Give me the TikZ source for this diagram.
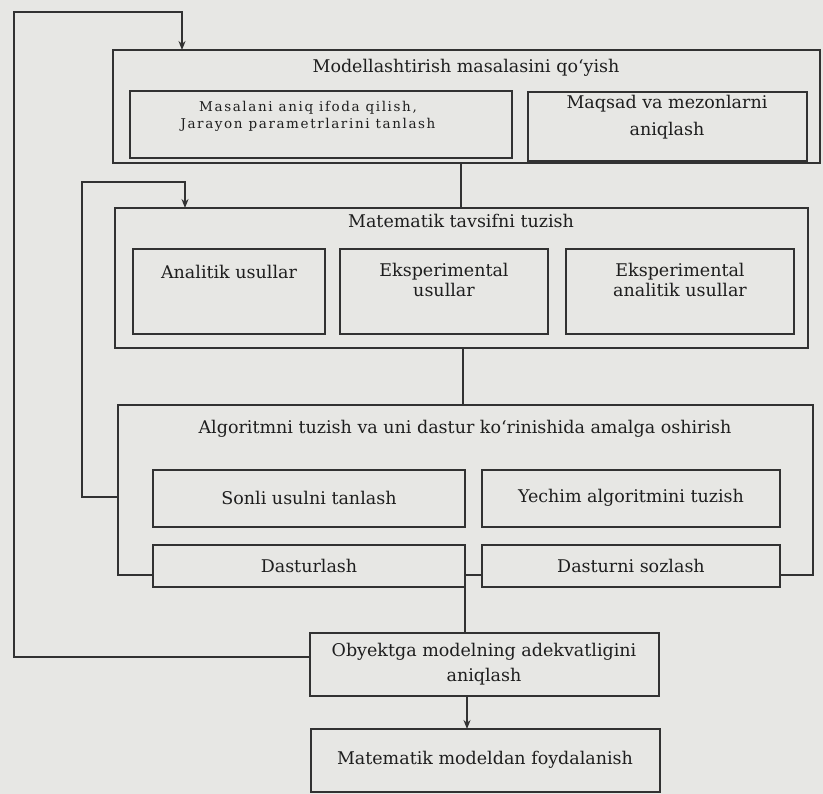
\documentclass[tikz,border=0pt]{standalone}
\usepackage{fontspec}
\setmainfont{DejaVu Serif}
\usetikzlibrary{fit,arrows.meta}
\definecolor{bg}{RGB}{231,231,228}
\definecolor{ink}{RGB}{50,50,50}
\definecolor{txtc}{RGB}{30,30,30}
\begin{document}
\begin{tikzpicture}[x=1pt,y=-1pt,
  frame/.style={draw=ink, line width=1.5pt, inner sep=0pt, outer sep=0pt},
  area/.style={inner sep=0pt, outer sep=0pt},
  wire/.style={draw=ink, line width=1.5pt},
  arr/.style={wire, -{Stealth[length=9pt,width=7pt]}},
  txt/.style={text=txtc, align=center, inner sep=0pt, font=\fontsize{17.5}{22}\selectfont},
  small/.style={txt, font=\fontsize{13.5}{17}\selectfont\addfontfeatures{LetterSpace=12}}
]
\fill[bg] (0,0) rectangle (823,794);
\useasboundingbox (0,0) rectangle (823,794);

% stage 1
\node[frame, fit={(113,50)(820,163)}] (b1) {};
\node[frame, fit={(130,91)(512,158)}] (b1a) {};
\node[frame, fit={(528,92)(807,161)}] (b1b) {};
\node[txt] (t1) at (466,68) {Modellashtirish masalasini qoʻyish};
\node[small] (t1a) at (308,116) {Masalani aniq ifoda qilish,\\Jarayon parametrlarini tanlash};
\node[txt, font=\fontsize{17.5}{27}\selectfont] (t1b) at (667,117) {Maqsad va mezonlarni\\aniqlash};

% stage 2
\node[frame, fit={(115,208)(808,348)}] (b2) {};
\node[frame, fit={(133,249)(325,334)}] (b2a) {};
\node[frame, fit={(340,249)(548,334)}] (b2b) {};
\node[frame, fit={(566,249)(794,334)}] (b2c) {};
\node[txt] (t2) at (461,221) {Matematik tavsifni tuzish};
\node[txt] (t2a) at (229,272) {Analitik usullar};
\node[txt, font=\fontsize{17.5}{20}\selectfont] (t2b) at (444,280) {Eksperimental\\usullar};
\node[txt, font=\fontsize{17.5}{20}\selectfont] (t2c) at (680,280) {Eksperimental\\analitik usullar};

% stage 3 (open frame)
\node[area, fit={(118,405)(813,575)}] (b3) {};
\node[frame, fit={(153,470)(465,527)}] (b3a) {};
\node[frame, fit={(482,470)(780,527)}] (b3b) {};
\node[frame, fit={(153,545)(465,587)}] (dast) {};
\node[frame, fit={(482,545)(780,587)}] (sozl) {};
\node[txt] (t3) at (465,429) {Algoritmni tuzish va uni dastur koʻrinishida amalga oshirish};
\node[txt] (t3a) at (309,498) {Sonli usulni tanlash};
\node[txt] (t3b) at (631,498) {Yechim algoritmini tuzish};
\node[txt] (t3c) at (309,566) {Dasturlash};
\node[txt] (t3d) at (631,566) {Dasturni sozlash};
\draw[wire, line width=1.5pt] (dast.west |- b3.south west) -- (b3.south west) -- (b3.north west)
  -- (b3.north east) -- (b3.south east) -- (sozl.east |- b3.south east);
\draw[wire, line width=1.5pt] (dast.east |- b3.south) -- (sozl.west |- b3.south);

% stage 4, 5
\node[frame, fit={(310,633)(659,696)}] (obj) {};
\node[txt, font=\fontsize{17.5}{25}\selectfont] (t4) at (484,664) {Obyektga modelning adekvatligini\\aniqlash};
\node[frame, fit={(311,729)(660,792)}] (use) {};
\node[txt] (t5) at (485,760) {Matematik modeldan foydalanish};

% connectors
\coordinate (c12) at (461,0);
\coordinate (c23) at (463,0);
\coordinate (c45) at (467,0);
\draw[wire] (b1.south -| c12) -- (b2.north -| c12);
\draw[wire] (b2.south -| c23) -- (b3.north -| c23);
\draw[wire, line width=1.5pt] (dast.south east) -- (obj.north -| dast.south east);
\draw[arr] (obj.south -| c45) -- (use.north -| c45);

% feedback from stage 3 to stage 2
\coordinate (f1) at (82,497);
\coordinate (f2) at (82,182);
\coordinate (f3) at (185,182);
\draw[arr] (b3.west |- f1) -- (f1) -- (f2) -- (f3) -- (b2.north -| f3);

% feedback from stage 4 to stage 1
\coordinate (g1) at (14,657);
\coordinate (g2) at (14,12);
\coordinate (g3) at (182,12);
\draw[arr] (obj.west |- g1) -- (g1) -- (g2) -- (g3) -- (b1.north -| g3);
\end{tikzpicture}
\end{document}
